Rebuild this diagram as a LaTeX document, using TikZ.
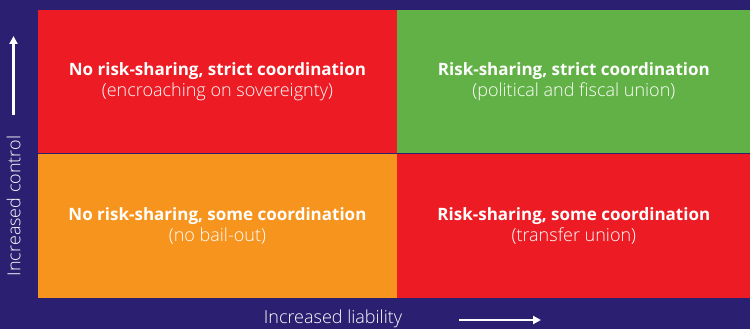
\documentclass[tikz,border=0pt]{standalone}
\usepackage{fontspec}
\setmainfont{Open Sans}
\newfontfamily\lightfont{Open Sans Light}
\newcommand{\subfont}{\lightfont\fontsize{18}{21}\selectfont}
\usetikzlibrary{positioning}
\usetikzlibrary{arrows.meta}
\definecolor{navy}{HTML}{2A1F70}
\definecolor{redq}{HTML}{ED1C24}
\definecolor{greenq}{HTML}{62B146}
\definecolor{orangeq}{HTML}{F7941D}

\begin{document}
\begin{tikzpicture}[x=1pt, y=-1pt,
    every node/.style={text=white, align=center},
    cell/.style={minimum height=143.7pt, inner sep=0pt, font=\fontsize{17}{21}\selectfont},
    axislabel/.style={font=\lightfont\fontsize{18}{20}\selectfont},
    axisarrow/.style={draw=white, line width=2.2pt, -{Triangle[length=8pt, width=8pt]}}]
            \useasboundingbox (0,0) rectangle (750,329);
            \fill[navy] (0,0) rectangle (750,329);

            % Cuadrantes
            \node[cell, fill=redq, minimum width=358.5pt, anchor=north west] (nostrict) at (38,9.5)
                {\textbf{No risk-sharing, strict coordination}\\{\subfont (encroaching on sovereignty)}};
            \node[cell, fill=greenq, minimum width=353.5pt, right=0pt of nostrict] (strict)
                {\textbf{Risk-sharing, strict coordination}\\{\subfont (political and fiscal union)}};
            \node[cell, fill=orangeq, minimum width=358.5pt, below=0pt of nostrict] (nosome)
                {\textbf{No risk-sharing, some coordination}\\{\subfont (no bail-out)}};
            \node[cell, fill=redq, minimum width=353.5pt, below=0pt of strict] (some)
                {\textbf{Risk-sharing, some coordination}\\{\subfont (transfer union)}};

            % Ejes
            \node[axislabel, rotate=90] (control) at (13.5,206) {Increased control};
            \node[axislabel] (liability) at (333,319) {Increased liability};
            \coordinate (c0) at (13.5,115);
            \coordinate (c1) at (13.5,36);
            \coordinate (l0) at (459,320);
            \coordinate (l1) at (541,320);
            \draw[axisarrow] (c0) -- (c1);
            \draw[axisarrow] (l0) -- (l1);
          \end{tikzpicture}
\end{document}
